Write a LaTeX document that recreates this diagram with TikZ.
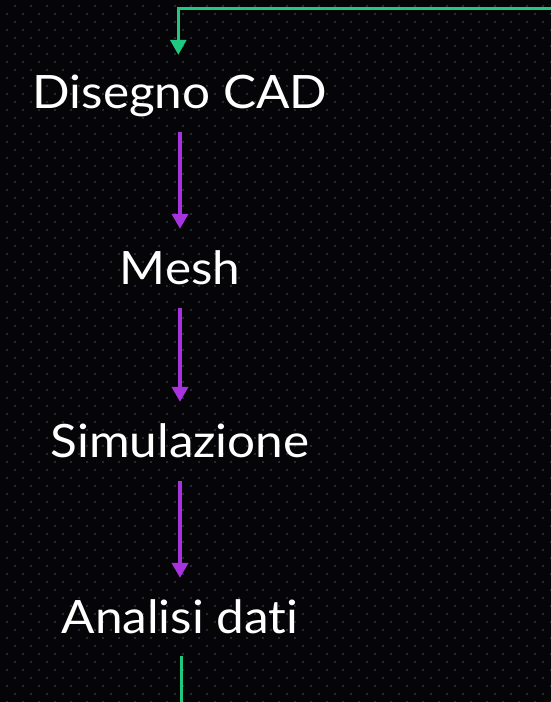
\documentclass[tikz,border=0pt]{standalone}
\usepackage{fontspec}
\setmainfont{Lato}[Ligatures={NoCommon,NoRare,NoContextual}]
\usetikzlibrary{arrows.meta}
\definecolor{bgc}{HTML}{050507}
\definecolor{dotc}{HTML}{26263C}
\definecolor{gc}{HTML}{1FC97F}
\definecolor{pc}{HTML}{A633DE}
\newcommand{\wide}[1]{\scalebox{1.075}[1]{#1}}
\tikzset{
  lbl/.style={text=white, font=\fontsize{46}{50}\selectfont, inner sep=0pt, text height=33pt, text depth=0pt, anchor=base},
  parrow/.style={draw=pc, line width=4pt, -{Triangle[width=16pt,length=15pt]}, shorten <=24pt, shorten >=22pt},
  gline/.style={draw=gc, line width=3pt},
}
\begin{document}
\begin{tikzpicture}[x=1pt,y=-1pt]
\fill[bgc] (0,0) rectangle (551,702);
\useasboundingbox (0,0) rectangle (551,702);
\foreach \i in {0,...,34}{
  \foreach \j in {0,...,44}{
    \fill[dotc] (15+16*\i-1,6+16*\j-1) rectangle ++(2,2);
    \fill[dotc] (7+16*\i-1,14+16*\j-1) rectangle ++(2,2);
  }
}
\node[lbl] (cad) at (180,108) {\wide{Disegno CAD}};
\node[lbl] (mesh) at (180,284) {\wide{Mesh}};
\node[lbl] (sim) at (180,457) {\wide{Simulazione}};
\node[lbl] (ana) at (180,633) {\wide{Analisi dati}};
\coordinate (gtop) at (552,8);
\coordinate (gbot) at (181.3,703);
\draw[parrow] (cad.south) -- (mesh.north);
\draw[parrow] (mesh.south) -- (sim.north);
\draw[parrow] (sim.south) -- (ana.north);
\draw[gline, -{Triangle[width=16pt,length=15pt]}, shorten >=20pt] (gtop) -| ([xshift=-1.7pt]cad.north);
\draw[gline, shorten <=23pt] ([xshift=1.3pt]ana.south) -- (gbot);
\end{tikzpicture}
\end{document}
